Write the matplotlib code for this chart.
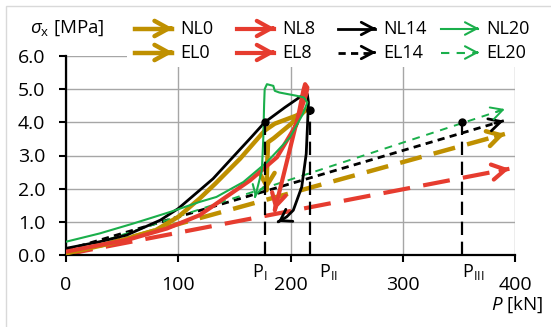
import matplotlib
matplotlib.use("Agg")
import matplotlib.pyplot as plt
from matplotlib.patches import Rectangle, FancyArrowPatch
from matplotlib.lines import Line2D

plt.rcParams['font.family'] = ['Open Sans', 'DejaVu Sans']
plt.rcParams['mathtext.fontset'] = 'custom'
plt.rcParams['mathtext.rm'] = 'Open Sans'
plt.rcParams['mathtext.it'] = 'Open Sans:italic'

GOLD = '#BF9000'
RED = '#E63C2F'
GREEN = '#1AAF4B'
BLACK = '#000000'

# ---- data (P in kN, sigma_x in MPa) ----
nl0_p = [0, 40, 80, 100, 119, 133, 155, 177, 186, 205, 215, 214, 200, 185, 180, 179.2, 178.6]
nl0_s = [0.05, 0.35, 0.75, 1.15, 1.7, 2.15, 2.9, 3.75, 3.96, 4.2, 4.4, 4.38, 3.94, 3.52, 3.4, 2.7, 1.95]

nl8_p = [0, 30, 54, 90, 119, 134, 164, 188, 205.5, 211.4, 213, 215, 214, 205, 193, 186]
nl8_s = [0.1, 0.3, 0.45, 0.8, 1.2, 1.55, 2.25, 2.95, 3.95, 4.95, 5.15, 5.05, 4.85, 3.95, 2.3, 1.35]

nl14_p = [0, 30, 54, 84, 100, 119, 131, 150, 165, 177, 195, 210, 215, 216, 215, 214, 210, 202.5, 196.6, 189]
nl14_s = [0.2, 0.4, 0.6, 1.05, 1.4, 1.95, 2.3, 3.0, 3.55, 4.0, 4.45, 4.8, 4.85, 4.6, 3.8, 3.05, 2.05, 1.35, 1.15, 1.0]

nl20_p = [0, 30, 60, 93, 119, 134, 158, 179, 199.6, 211, 215, 212, 205.5, 190, 186, 184.7, 179, 177,
          176.5, 175.8, 174.5, 170, 168.4]
nl20_s = [0.4, 0.65, 0.95, 1.3, 1.6, 1.75, 2.2, 2.8, 3.55, 4.25, 4.6, 4.75, 4.8, 4.9, 4.95, 5.1, 5.15, 5.0,
          4.55, 3.55, 2.55, 1.95, 1.75]

el0_p, el0_s = [0, 391], [0.0, 3.65]
el8_p, el8_s = [0, 395], [0.02, 2.6]
el14_p, el14_s = [0, 390], [0.15, 4.05]
el20_p, el20_s = [0, 391], [0.05, 4.4]

p_load = [177, 217, 353]
p_sig = [4.0, 4.38, 4.0]
p_names = [r'P$_\mathregular{I}$', r'P$_\mathregular{II}$', r'P$_\mathregular{III}$']
p_label_x = [166, 225, 353]

W, H = 551, 327
fig = plt.figure(figsize=(W / 100, H / 100), dpi=100)
ax = fig.add_axes([66 / W, 1 - 255 / H, (515 - 66) / W, (255 - 56) / H])


def fx(px):
    return px / W


def fy(py):
    return 1 - py / H


def curve(x, y, color, lw, ls, hl, hw, z=3):
    ax.plot(x, y, color=color, lw=lw, ls=ls, zorder=z, solid_capstyle='round', solid_joinstyle='round')
    dx, dy = x[-1] - x[-2], y[-1] - y[-2]
    ax.annotate('', xy=(x[-1], y[-1]), xytext=(x[-1] - 0.02 * dx, y[-1] - 0.02 * dy),
                arrowprops=dict(arrowstyle=f'->,head_length={hl},head_width={hw}', color=color, lw=lw,
                                shrinkA=0, shrinkB=0, mutation_scale=10, capstyle='round',
                                joinstyle='miter'), zorder=z)


# elastic lines
curve(el0_p, el0_s, GOLD, 3.2, (0, (5, 2.8)), 0.95, 0.55, z=2.2)
curve(el8_p, el8_s, RED, 3.0, (0, (6.5, 3.2)), 0.95, 0.55, z=2.2)
curve(el14_p, el14_s, BLACK, 2.0, (0, (2.6, 1.9)), 0.85, 0.45, z=2.3)
curve(el20_p, el20_s, GREEN, 1.4, (0, (4, 3.5)), 0.85, 0.45, z=2.3)

# nonlinear curves
curve(nl0_p, nl0_s, GOLD, 3.2, '-', 0.95, 0.55, z=3)
curve(nl14_p, nl14_s, BLACK, 2.0, '-', 0.75, 0.5, z=3.1)
curve(nl8_p, nl8_s, RED, 3.0, '-', 0.9, 0.5, z=3.2)
curve(nl20_p, nl20_s, GREEN, 1.5, '-', 0.7, 0.4, z=3.3)

# load levels
for xp, sp, name, lx in zip(p_load, p_sig, p_names, p_label_x):
    ax.plot([xp, xp], [0, sp], color=BLACK, lw=1.6, ls=(0, (6, 3)), zorder=4)
    ax.plot(xp, sp, 'o', color=BLACK, ms=5, zorder=4)
    ax.text(lx, -0.5, name, fontsize=13, ha='left', va='center', clip_on=False)

ax.set_xlim(0, 400)
ax.set_ylim(0, 6)
ax.set_xticks([0, 100, 200, 300, 400])
ax.set_yticks(range(7))
ax.set_yticklabels([f'{v:.1f}' for v in range(7)])
ax.grid(True, color='#A6A6A6', lw=1.0)
for s in ['top', 'right']:
    ax.spines[s].set_visible(False)
for s in ['left', 'bottom']:
    ax.spines[s].set_linewidth(1.6)
ax.tick_params(direction='out', length=5, width=1.5, labelsize=14)
ax.tick_params(axis='x', pad=10)
ax.tick_params(axis='y', pad=10)

# figure frame and legend area
fig.add_artist(Rectangle((fx(127), fy(67)), 1, 1, transform=fig.transFigure,
                         facecolor='white', edgecolor='none', zorder=5))
fig.add_artist(Rectangle((fx(5.5), -0.1), 1, fy(5.5) + 0.1, transform=fig.transFigure,
                         facecolor='none', edgecolor='#D9D9D9', lw=1.0, zorder=6))

fig.text(fx(30), fy(28), r'$\sigma_\mathregular{x}$ [MPa]', fontsize=13.5, ha='left', va='center', zorder=7)
fig.text(fx(543), fy(305), r'$P$ [kN]', fontsize=13.5, ha='right', va='center', zorder=7)

# legend
leg = [('NL0', GOLD, 3.2, '-', 1.0, 0.55, 135, 28.5), ('NL8', RED, 3.0, '-', 1.0, 0.55, 237, 28.5),
       ('NL14', BLACK, 2.0, '-', 0.85, 0.45, 338, 28.5), ('NL20', GREEN, 1.5, '-', 0.85, 0.45, 441, 28.5),
       ('EL0', GOLD, 3.2, '-', 1.0, 0.55, 135, 52.5), ('EL8', RED, 3.0, '-', 1.0, 0.55, 237, 52.5),
       ('EL14', BLACK, 2.0, (0, (2.6, 1.9)), 0.85, 0.45, 338, 52.5),
       ('EL20', GREEN, 1.5, (0, (4, 3.5)), 0.85, 0.45, 441, 52.5)]
for name, c, lw, ls, hl, hw, x0, y0 in leg:
    fig.add_artist(Line2D([fx(x0), fx(x0 + 37)], [fy(y0), fy(y0)], transform=fig.transFigure,
                          color=c, lw=lw, ls=ls, zorder=7))
    fig.add_artist(FancyArrowPatch((fx(x0 + 36), fy(y0)), (fx(x0 + 38), fy(y0)), transform=fig.transFigure,
                                   arrowstyle=f'->,head_length={hl},head_width={hw}', color=c, lw=lw,
                                   shrinkA=0, shrinkB=0, mutation_scale=10, zorder=7))
    fig.text(fx(x0 + 45), fy(y0), name, fontsize=13, ha='left', va='center', zorder=7)

fig.savefig('out.png', dpi=100)
